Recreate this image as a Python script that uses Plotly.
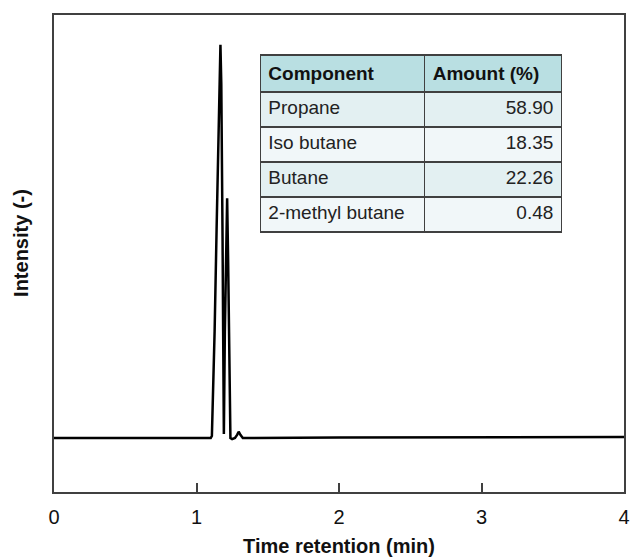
import plotly.graph_objects as go

# Chromatogram trace (time in min, intensity in % of main peak)
time_min = [0.00, 0.50, 1.00, 1.100, 1.108, 1.115, 1.127, 1.141, 1.155, 1.168,
            1.174, 1.178, 1.183, 1.187, 1.192, 1.199, 1.207, 1.215, 1.222, 1.229,
            1.238, 1.250, 1.270, 1.285, 1.296, 1.308, 1.325, 2.00, 3.00, 4.00]
intensity = [0.0, 0.0, 0.0, 0.0, 0.5, 10, 27, 53, 78, 100,
             90, 78, 50, 27, 1, 27, 48, 61, 45, 27,
             0.0, -0.3, 0.0, 0.8, 1.6, 0.8, 0.0, 0.1, 0.2, 0.25]

# Composition table
components = ["Propane", "Iso butane", "Butane", "2-methyl butane"]
amounts = ["58.90", "18.35", "22.26", "0.48"]
table_header = ["Component", "Amount (%)"]

# Axis ticks
x_tickvals = [0, 1, 2, 3, 4]
x_ticktext = ["0", "1", "2", "3", "4"]

FONT = "Liberation Sans, Arial, sans-serif"

fig = go.Figure()
fig.add_trace(go.Scatter(
    x=time_min, y=intensity, mode="lines",
    line=dict(color="#000000", width=2.5),
    showlegend=False, hoverinfo="skip",
))

row_fills = ["#e3f0f2", "#f1f7f9", "#e3f0f2", "#f1f7f9"]
fig.add_trace(go.Table(
    domain=dict(x=[0.362, 0.891], y=[0.40, 0.916]),
    columnwidth=[166, 138],
    header=dict(
        values=["<b>%s</b>" % h for h in table_header],
        fill_color="#b9dfe2",
        line=dict(color="#404040", width=1.5),
        align=["left", "left"],
        font=dict(family=FONT, size=19, color="#111111"),
        height=36,
    ),
    cells=dict(
        values=[components, amounts],
        fill_color=[row_fills, row_fills],
        line=dict(color="#404040", width=1.5),
        align=["left", "right"],
        font=dict(family=FONT, size=19, color="#222222"),
        height=35,
    ),
))

fig.update_layout(
    width=632, height=557,
    margin=dict(l=54, r=2, t=15, b=65),
    paper_bgcolor="white", plot_bgcolor="white",
    font=dict(family=FONT, color="#111111"),
    showlegend=False,
    annotations=[dict(
        text="<b>Intensity (-)</b>", textangle=-90,
        xref="paper", yref="paper", x=-0.059, y=0.523,
        xanchor="center", yanchor="middle", showarrow=False,
        font=dict(family=FONT, size=20, color="#111111"),
    )],
)
fig.update_xaxes(
    range=[0, 4], tickvals=x_tickvals, ticktext=x_ticktext,
    ticks="inside", ticklen=9, tickwidth=1.5, tickcolor="#404040",
    showline=True, linecolor="#404040", linewidth=1.5, mirror=True,
    showgrid=False, zeroline=False,
    tickfont=dict(family=FONT, size=20, color="#111111"),
    ticklabelstandoff=6, ticklabeloverflow="allow",
    title=dict(text="<b>Time retention (min)</b>", standoff=12,
               font=dict(family=FONT, size=20, color="#111111")),
)
fig.update_yaxes(
    range=[-13.74, 107.6], showticklabels=False, ticks="",
    showline=True, linecolor="#404040", linewidth=1.5, mirror=True,
    showgrid=False, zeroline=False,
)

# Remove the browser's default body margin so the figure fills the window exactly.
fig.write_html(
    "out.html",
    config={"displayModeBar": False},
    post_script="document.body.style.margin='0';"
                "document.documentElement.style.overflow='hidden';",
)
